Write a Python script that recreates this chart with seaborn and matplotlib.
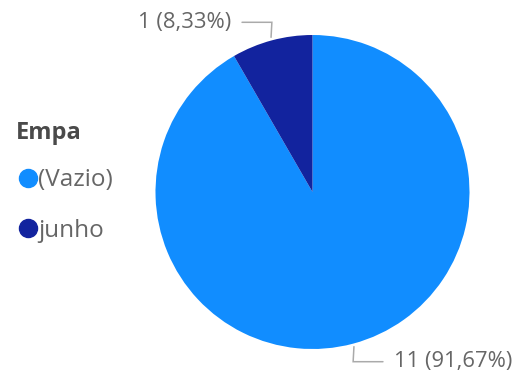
import numpy as np
import matplotlib
matplotlib.use("Agg")
import matplotlib.pyplot as plt
from matplotlib.lines import Line2D
import seaborn as sns

# Data
categories = ["(Vazio)", "junho"]
counts = [11, 1]
colors = ["#118DFF", "#12239E"]
legend_title = "Empa"

sns.set_style("white")
plt.rcParams["font.family"] = ["Open Sans", "DejaVu Sans"]

W, H = 521, 376
fig = plt.figure(figsize=(W / 100, H / 100), dpi=100)

# Pie axes: centre (312.5, 192) px, radius 157 px
cx, cy, r = 312.5, 192.0, 157.0
ax = fig.add_axes([(cx - r) / W, (H - cy - r) / H, 2 * r / W, 2 * r / H])

wedges, _ = ax.pie(counts, colors=colors, startangle=90, counterclock=False,
                   radius=1, wedgeprops=dict(linewidth=0))
ax.set_xlim(-1, 1)
ax.set_ylim(-1, 1)
ax.set_aspect("equal")
ax.axis("off")

total = sum(counts)
text_color = "#666666"
line_color = "#aaaaaa"
for w, n in zip(wedges, counts):
    mid = np.deg2rad((w.theta1 + w.theta2) / 2)
    x0, y0 = np.cos(mid), np.sin(mid)
    side = np.sign(x0)
    ye = y0 + 0.115 * np.sign(y0)
    xe = x0
    xh = x0 + side * 0.19
    ax.plot([x0 * 1.02, xe, xh], [y0 * 1.02, ye, ye], color=line_color,
            lw=1.1, clip_on=False, solid_joinstyle="miter")
    pct = f"{100 * n / total:.2f}".replace(".", ",")
    ax.text(xh + side * 0.07, ye, f"{n} ({pct}%)", ha="left" if side > 0 else "right",
            va="center", fontsize=15.8, color=text_color, clip_on=False)

# Legend title
fig.text(16 / W, 1 - 133 / H, legend_title, ha="left", va="center",
         fontsize=17, fontweight="bold", color="#4a4a4a")

# Legend entries
handles = [Line2D([], [], marker="o", linestyle="", markersize=13,
                  markerfacecolor=c, markeredgecolor=c) for c in colors]
leg = fig.legend(handles, categories, loc="upper left",
                 bbox_to_anchor=(4 / W, 1 - 156 / H), frameon=False,
                 fontsize=17.5, handletextpad=-0.1,
                 handlelength=1.0, labelspacing=1.1, borderpad=0)
for t in leg.get_texts():
    t.set_color(text_color)

fig.savefig("out.png", dpi=100)
